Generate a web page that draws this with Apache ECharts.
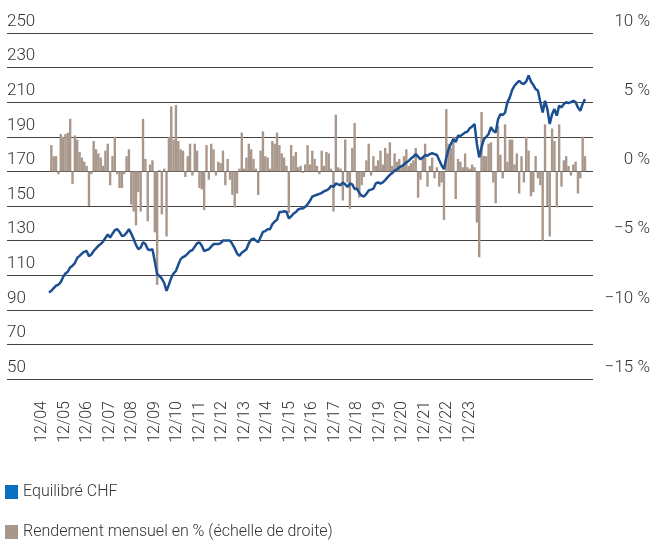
<!DOCTYPE html>
<html><head><meta charset="utf-8">
<script src="https://cdn.jsdelivr.net/npm/echarts@6/dist/echarts.min.js"></script>
<style>html,body{margin:0;padding:0;background:#fff}#c{width:653px;height:542px}</style>
</head><body><div id="c"></div>
<script>
const yearTicks = ['12/04','12/05','12/06','12/07','12/08','12/09','12/10','12/11','12/12','12/13','12/14','12/15','12/16','12/17','12/18','12/19','12/20','12/21','12/22','12/23'];

const fundIndex = [
100,101,102.5,104,104.5,106,109,111,112,114.5,115.5,117,
120,121.2,122.5,123.5,124,121,122,124,125.5,127,128,129.5,
131.5,133.5,131.8,134,136,136.6,135,132.7,133,134.5,136.6,134,
131,127.5,125,126,129,128,125,124.5,125,118,110.5,109.6,
108,105.5,101,104.5,108.5,111,112.5,116,119.3,120.5,121.2,122.5,
124,124.5,126.5,128.5,129,127,124,124.5,125,126.5,128,128,
128,128.5,130,130,130,130,128,125.5,122.5,121.2,123,124,
125,128.5,130.5,131.2,130,129,132,135,135.5,136.5,136.6,139.5,
141,142,146.5,146.5,147,146.7,142.8,144,145.5,146.5,148,148.5,
148.5,149.5,151,153,155.5,156,156.5,157,157.5,158.5,159,159.8,
161.7,161,163,162.5,162,163.6,162.5,161,163,162.5,159.8,160,
157.5,156,155.5,157,159,159.5,160,163,163.6,163,163.6,165,
166.5,168,169,170.5,171,172.3,173,174,175.2,176,177.5,178.5,
180,178.5,177,178,179.5,179,180,180.5,180,179.5,176.5,173.5,
171.3,178,183,186,188.7,187,190.6,190.5,191.5,192.5,193,195,
196,197.4,186,178.1,184,188.7,190,191.6,195.5,193.5,192.5,200,
203,202.6,204,209.9,212.8,217,219.5,221,222.4,221,220.5,222,
225.5,222,220,217.6,216.6,210,204.1,210.8,206,197.4,203,206,
202.2,208,207,209,210,209.5,210,210.8,210,207,205,209,
211.8
];

const monthlyReturn = [
null,1.9,1.1,1.1,-0.2,2.7,2.5,2.7,2.8,3.8,-0.9,2.6,
2.3,1.4,1.0,0.7,0.4,-2.5,-0.2,2.2,1.6,1.3,1.0,0.4,
1.5,2.0,-1.0,1.1,2.5,-0.2,-1.2,-1.2,-0.2,1.1,1.6,-2.4,
-2.9,-3.9,-1.5,-2.9,3.8,0.9,-3.6,0.5,0.8,-4.4,-8.2,0.1,
-3.1,0.2,-4.7,2.5,4.7,2.3,4.8,2.2,1.6,1.5,-0.4,1.1,
2.0,-0.3,2.0,1.5,-1.2,-1.3,-2.8,1.9,-0.6,2.0,1.6,-0.3,
0.7,0.6,1.5,-1.0,0.9,-0.6,-1.7,-2.6,-1.6,0.2,2.8,0.2,
1.0,2.0,1.6,0.9,0.2,-1.7,1.5,2.9,1.1,1.0,0.2,2.2,
2.0,2.8,1.9,1.3,1.0,0.4,-3.0,1.9,1.1,1.4,0.3,0.4,
-0.1,0.5,1.9,0.5,1.5,0.9,0.4,-0.2,1.5,0.4,1.4,1.3,
0.2,-2.9,4.1,0.3,0.2,-2.1,2.3,-0.8,-2.7,1.7,3.5,-1.3,
-1.9,-1.0,-0.4,0.8,2.0,-0.3,1.1,0.4,0.8,1.5,0.5,1.7,
1.3,2.1,0.4,1.3,0.7,0.9,0.3,1.1,1.6,0.4,0.6,0.8,
1.7,-1.9,-0.6,1.1,2.0,-1.1,0.4,1.0,-0.5,0.3,-1.1,-0.8,
-3.5,4.5,2.0,1.7,2.5,-2.0,0.9,0.7,0.3,1.3,0.3,0.2,
0.5,0.3,-3.7,-6.2,4.3,1.1,1.1,2.0,2.1,-0.8,-2.3,3.3,
1.2,-0.5,3.4,0.7,2.3,2.3,0.5,1.3,-1.6,1.1,-0.8,2.5,
1.5,-1.8,-1.5,1.1,-0.5,-1.0,-5.0,3.4,-2.5,-4.7,3.1,2.2,
-2.6,3.4,-1.1,0.8,1.1,0.4,-0.3,0.5,0.7,-1.6,-0.5,2.5,
1.1
];

const months = [];
for (let i = 0; i < fundIndex.length; i++) {
  const k = 11 + i;
  const m = k % 12 + 1;
  const y = 4 + Math.floor(k / 12);
  months.push(String(m).padStart(2,'0') + '/' + String(y).padStart(2,'0'));
}

const FONT = 'Roboto';
const TXT = '#333';
const NAME_LINE = 'Equilibré CHF';
const NAME_BAR = 'Rendement mensuel en % (échelle de droite)';
const legendText = { fontSize: 16, color: TXT, fontFamily: FONT, fontWeight: 300 };

const chart = echarts.init(document.getElementById('c'));
chart.setOption({
  animation: false,
  backgroundColor: '#fff',
  textStyle: { fontFamily: FONT, fontWeight: 300, color: TXT },
  grid: [
    { left: 7, right: 58, top: 33, bottom: 163 },
    { left: 49, right: 68, top: 33, bottom: 163 },
    { left: 42, right: 183, top: 33, bottom: 163 }
  ],
  xAxis: [
    { gridIndex: 0, type: 'value', min: 0, max: 1, show: false },
    { gridIndex: 1, type: 'category', data: months, boundaryGap: false, show: false },
    { gridIndex: 2, type: 'category', data: yearTicks, boundaryGap: false,
      axisLine: { show: false }, axisTick: { show: false }, splitLine: { show: false },
      axisLabel: { interval: 0, rotate: 90, margin: 22, fontSize: 16, color: TXT, fontFamily: FONT, fontWeight: 300 } }
  ],
  yAxis: [
    { gridIndex: 0, type: 'value', min: 50, max: 250, interval: 20, position: 'left',
      axisLine: { show: false }, axisTick: { show: false },
      splitLine: { show: true, lineStyle: { color: '#444', width: 1 } },
      axisLabel: { inside: true, margin: 0, align: 'left', verticalAlign: 'bottom', padding: [0,0,3,0],
        fontSize: 17, color: TXT, fontFamily: FONT, fontWeight: 300 } },
    { gridIndex: 0, type: 'value', min: -15, max: 10, interval: 5, position: 'right',
      axisLine: { show: false }, axisTick: { show: false }, splitLine: { show: false },
      axisLabel: { margin: 57, align: 'right', verticalAlign: 'bottom', padding: [0,0,3,0],
        fontSize: 17, color: TXT, fontFamily: FONT, fontWeight: 300,
        formatter: v => (v < 0 ? '\u2212' + Math.abs(v) : v) + ' %' } },
    { gridIndex: 1, type: 'value', min: 50, max: 250, interval: 20, show: false },
    { gridIndex: 1, type: 'value', min: -15, max: 10, interval: 5, show: false },
    { gridIndex: 2, type: 'value', min: 0, max: 1, show: false }
  ],
  legend: [
    { left: 5, top: 484, padding: 0, icon: 'rect', itemWidth: 13, itemHeight: 14,
      textStyle: legendText, selectedMode: false,
      data: [{ name: NAME_LINE, itemStyle: { color: '#0b6fc0' } }] },
    { left: 5, top: 524, padding: 0, icon: 'rect', itemWidth: 13, itemHeight: 14,
      textStyle: legendText, selectedMode: false,
      data: [{ name: NAME_BAR, itemStyle: { color: '#a8978a' } }] }
  ],
  series: [
    { name: NAME_BAR, type: 'bar', xAxisIndex: 1, yAxisIndex: 3, data: monthlyReturn,
      barWidth: 2.4, itemStyle: { color: '#a8978a' }, z: 2 },
    { name: NAME_LINE, type: 'line', xAxisIndex: 1, yAxisIndex: 2, data: fundIndex,
      showSymbol: false, symbol: 'none', lineStyle: { color: '#1b4f91', width: 2.5 },
      itemStyle: { color: '#1b4f91' }, z: 3 }
  ]
});
</script>
</body></html>
